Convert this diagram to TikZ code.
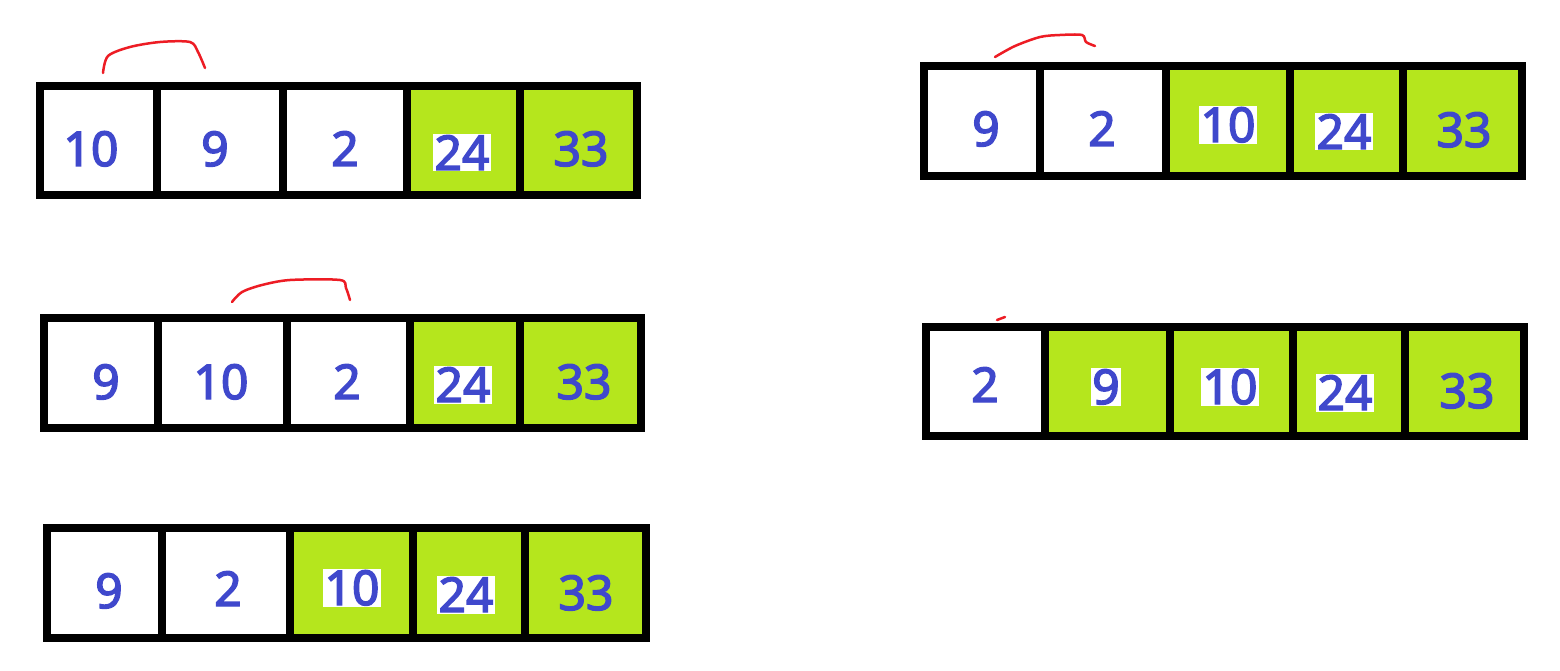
\documentclass[tikz,border=0pt]{standalone}
\usepackage{fontspec}
\setmainfont{Noto Sans}
\newfontfamily\numfont{Noto Sans}[FakeBold=3]
\definecolor{lime}{HTML}{B5E61D}
\definecolor{ink}{HTML}{3F48CC}
\definecolor{pen}{HTML}{ED1C24}
\begin{document}
\begin{tikzpicture}[x=1pt,y=-1pt,
  frame/.style={line width=8.5pt, draw=black},
  num/.style={font=\numfont\fontsize{48}{48}\selectfont, text=ink, anchor=base, inner sep=0pt},
  patch/.style={num, fill=white, inner sep=1.5pt},
  swap/.style={draw=pen, line width=2.5pt, line cap=round, line join=round}]
\useasboundingbox (0,0) rectangle (1560,671);
\fill[white] (0,0) rectangle (1560,671);

% ---- array 1 (top left)
\fill[lime] (407,86) rectangle (637,195);
\draw[frame] (40,86) rectangle (637,195);
\foreach \x in {157,283,407,520} \draw[frame] (\x,86) -- (\x,195);
\node[num] (a1) at (91,166) {10};
\node[num] (a2) at (215,166) {9};
\node[num] (a3) at (345,166) {2};
\node[patch] (a4) at (462,170) {24};
\node[num] (a5) at (581,166) {33};
\draw[swap] plot[smooth] coordinates {(103,73) (108,56) (130,47) (160,42) (190,42) (198,52) (205,68)};

% ---- array 2 (top right)
\fill[lime] (1166,66) rectangle (1522,176);
\draw[frame] (924,66) rectangle (1522,176);
\foreach \x in {1040,1166,1290,1403} \draw[frame] (\x,66) -- (\x,176);
\node[num] (b1) at (986,146) {9};
\node[num] (b2) at (1102,146) {2};
\node[patch] (b3) at (1228,142) {10};
\node[patch] (b4) at (1344,149) {24};
\node[num] (b5) at (1464,147) {33};
\draw[swap] plot[smooth] coordinates {(995,57) (1015,46) (1040,37) (1060,35) (1082,35) (1086,42) (1095,46)};

% ---- array 3 (middle left)
\fill[lime] (410,318) rectangle (641,428);
\draw[frame] (44,318) rectangle (641,428);
\foreach \x in {158,287,410,520} \draw[frame] (\x,318) -- (\x,428);
\node[num] (c1) at (106,399) {9};
\node[num] (c2) at (221,399) {10};
\node[num] (c3) at (347,399) {2};
\node[patch] (c4) at (463,402) {24};
\node[num] (c5) at (584,399) {33};
\draw[swap] plot[smooth] coordinates {(232,302) (242,292) (262,285) (290,280) (340,280) (346,288) (350,300)};

% ---- array 4 (middle right)
\fill[lime] (1045,327) rectangle (1524,436);
\draw[frame] (926,327) rectangle (1524,436);
\foreach \x in {1045,1170,1293,1405} \draw[frame] (\x,327) -- (\x,436);
\node[num] (d1) at (985,402) {2};
\node[patch] (d2) at (1106,404) {9};
\node[patch] (d3) at (1230,404) {10};
\node[patch] (d4) at (1345,410) {24};
\node[num] (d5) at (1467,408) {33};
\draw[swap] (997,320) -- (1005,317);

% ---- array 5 (bottom left)
\fill[lime] (290,528) rectangle (646,638);
\draw[frame] (47,528) rectangle (646,638);
\foreach \x in {162,290,413,525} \draw[frame] (\x,528) -- (\x,638);
\node[num] (e1) at (109,608) {9};
\node[num] (e2) at (228,606) {2};
\node[patch] (e3) at (352,605) {10};
\node[patch] (e4) at (466,612) {24};
\node[num] (e5) at (586,610) {33};
\end{tikzpicture}
\end{document}
